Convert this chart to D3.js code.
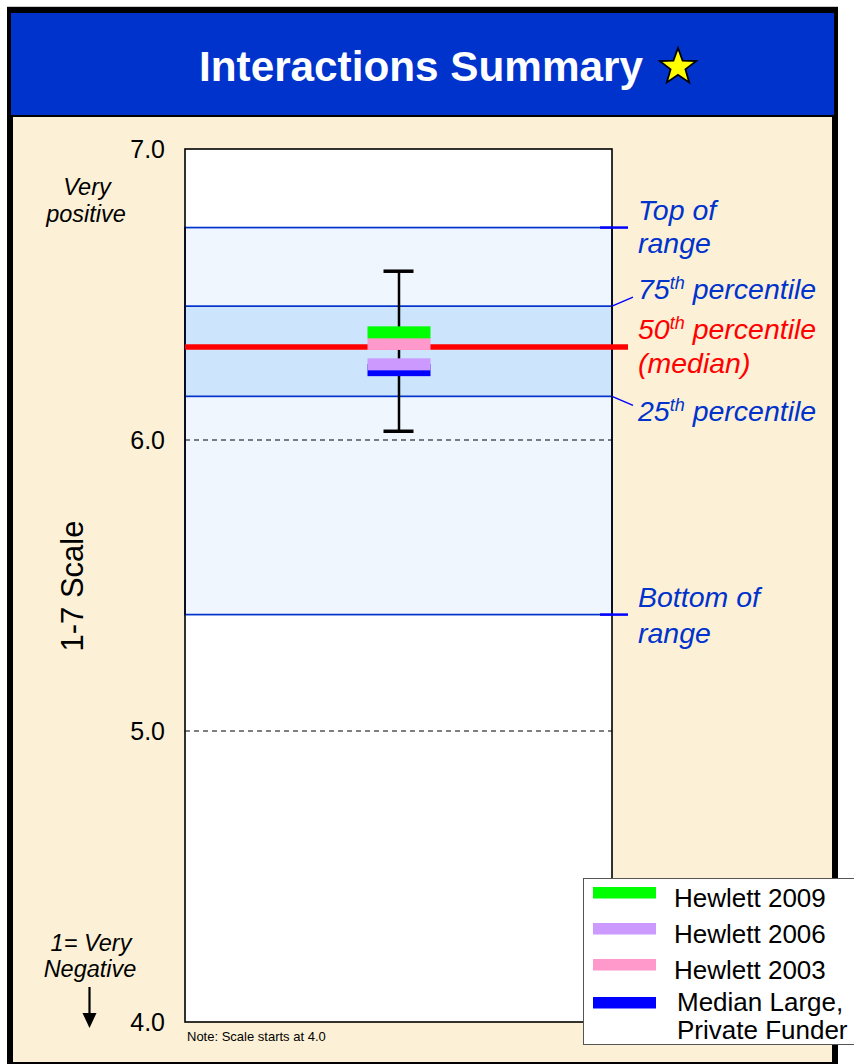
<!DOCTYPE html>
<html>
<head>
<meta charset="utf-8">
<script src="https://cdn.jsdelivr.net/npm/d3@7/dist/d3.min.js"></script>
<style>
  html, body { margin: 0; padding: 0; background: #ffffff; }
  svg { display: block; }
  text { font-family: Arial, "Liberation Sans", Helvetica, sans-serif; }
</style>
</head>
<body>
<svg id="chart" width="854" height="1064"></svg>
<script>
// Scale ticks and reference gridlines (1-7 scale, shown from 4.0)
const yDomain = [4, 7];
const yTicks = [4, 5, 6, 7];
const gridValues = [5, 6];

// Comparative distribution of funders
const rangeKeys = ["bottom", "q1", "median", "q3", "top"];
const rangeValues = [5.40, 6.15, 6.32, 6.46, 6.73];

// Whisker (error bar) around Hewlett's rating
const whiskerValues = [6.03, 6.58];

// Series markers
const seriesNames = ["Hewlett 2009", "Hewlett 2006", "Hewlett 2003", "Median Large, Private Funder"];
const seriesValues = [6.37, 6.26, 6.33, 6.24];
const seriesColors = ["#00ff00", "#cc99ff", "#ff99cc", "#0000ff"];

const svg = d3.select("#chart");
const stats = Object.fromEntries(rangeKeys.map((k, i) => [k, rangeValues[i]]));

// Frame and header
svg.append("line").attr("x1", 7).attr("x2", 838).attr("y1", 6.5).attr("y2", 6.5)
  .attr("stroke", "#cccccc").attr("stroke-width", 1);
svg.append("rect").attr("x", 7).attr("y", 7).attr("width", 831).attr("height", 1060).attr("fill", "#000000");
svg.append("rect").attr("x", 11).attr("y", 13).attr("width", 823).attr("height", 102).attr("fill", "#0033cc");
svg.append("rect").attr("x", 13).attr("y", 117).attr("width", 819).attr("height", 945).attr("fill", "#fcf1d6");

svg.append("text")
  .attr("x", 199).attr("y", 81)
  .attr("fill", "#ffffff").attr("font-weight", "bold").attr("font-size", 43)
  .attr("textLength", 444).attr("lengthAdjust", "spacingAndGlyphs")
  .text("Interactions Summary");

// Star next to the title
const starPts = d3.range(10).map(i => {
  const r = i % 2 === 0 ? 19 : 7.8;
  const a = -Math.PI / 2 + i * Math.PI / 5;
  return [678 + r * Math.cos(a), 67 + r * Math.sin(a)];
});
svg.append("path").attr("d", d3.line()(starPts) + "Z")
  .attr("fill", "#ffff00").attr("stroke", "#000000").attr("stroke-width", 1.8).attr("stroke-linejoin", "miter");

// Plot area
const plot = { left: 185, right: 612, top: 149, bottom: 1022 };
const y = d3.scaleLinear().domain(yDomain).range([plot.bottom, plot.top]);
const cx = (plot.left + plot.right) / 2;

svg.append("rect")
  .attr("x", plot.left).attr("y", plot.top)
  .attr("width", plot.right - plot.left).attr("height", plot.bottom - plot.top)
  .attr("fill", "#ffffff");

// Full range band and interquartile band
svg.append("rect")
  .attr("x", plot.left).attr("y", y(stats.top))
  .attr("width", plot.right - plot.left).attr("height", y(stats.bottom) - y(stats.top))
  .attr("fill", "#f0f6fe").attr("stroke", "#0033cc").attr("stroke-width", 1.7);
svg.append("rect")
  .attr("x", plot.left).attr("y", y(stats.q3))
  .attr("width", plot.right - plot.left).attr("height", y(stats.q1) - y(stats.q3))
  .attr("fill", "#cce5fc").attr("stroke", "#0033cc").attr("stroke-width", 1.7);

// Dashed gridlines
svg.append("g").selectAll("line").data(gridValues).join("line")
  .attr("x1", plot.left).attr("x2", plot.right)
  .attr("y1", d => y(d)).attr("y2", d => y(d))
  .attr("stroke", "#000000").attr("stroke-width", 1).attr("stroke-dasharray", "5,4");

// Plot border
svg.append("rect")
  .attr("x", plot.left).attr("y", plot.top)
  .attr("width", plot.right - plot.left).attr("height", plot.bottom - plot.top)
  .attr("fill", "none").attr("stroke", "#000000").attr("stroke-width", 1.6);

// Callout ticks for the range bands
svg.append("g").selectAll("line").data([stats.top, stats.bottom]).join("line")
  .attr("x1", 600).attr("x2", 628)
  .attr("y1", d => y(d)).attr("y2", d => y(d))
  .attr("stroke", "#0000ff").attr("stroke-width", 2.5);
svg.append("line").attr("x1", plot.right).attr("y1", y(stats.q3))
  .attr("x2", 633).attr("y2", y(stats.q3) - 9).attr("stroke", "#0000ff").attr("stroke-width", 1.5);
svg.append("line").attr("x1", plot.right).attr("y1", y(stats.q1))
  .attr("x2", 633).attr("y2", y(stats.q1) + 9).attr("stroke", "#0000ff").attr("stroke-width", 1.5);

// Median line
svg.append("line")
  .attr("x1", plot.left).attr("x2", 628)
  .attr("y1", y(stats.median)).attr("y2", y(stats.median))
  .attr("stroke", "#ff0000").attr("stroke-width", 5.5);

// Whisker
const wg = svg.append("g").attr("stroke", "#000000");
wg.append("line").attr("x1", cx + 0.5).attr("x2", cx + 0.5)
  .attr("y1", y(whiskerValues[1])).attr("y2", y(whiskerValues[0])).attr("stroke-width", 2.5);
wg.selectAll("line.cap").data(whiskerValues).join("line").attr("class", "cap")
  .attr("x1", cx - 15).attr("x2", cx + 15)
  .attr("y1", d => y(d)).attr("y2", d => y(d)).attr("stroke-width", 3.5);

// Series markers (drawn last-to-first so earlier series sit on top)
const markerW = 63, markerH = 12;
const markerData = seriesNames.map((n, i) => ({ name: n, value: seriesValues[i], color: seriesColors[i] })).reverse();
svg.append("g").selectAll("rect").data(markerData).join("rect")
  .attr("x", cx + 0.5 - markerW / 2).attr("width", markerW)
  .attr("y", d => y(d.value) - markerH / 2).attr("height", markerH)
  .attr("fill", d => d.color);

// Axis tick labels
const axis = d3.axisLeft(y).tickValues(yTicks).tickFormat(d3.format(".1f")).tickSize(0).tickPadding(20);
const axG = svg.append("g").attr("transform", `translate(${plot.left},0)`).call(axis);
axG.select(".domain").remove();
axG.selectAll("text")
  .attr("font-family", 'Arial, "Liberation Sans", sans-serif')
  .attr("font-size", 25).attr("fill", "#000000").attr("dy", "0.34em");

// Left-side annotations
const leftNotes = [
  { t: "Very", x: 87, y: 195 },
  { t: "positive", x: 86, y: 222 },
  { t: "1= Very", x: 91, y: 951 },
  { t: "Negative", x: 90, y: 977 }
];
svg.append("g").selectAll("text").data(leftNotes).join("text")
  .attr("x", d => d.x).attr("y", d => d.y).attr("text-anchor", "middle")
  .attr("font-style", "italic").attr("font-size", 23.5).attr("fill", "#000000")
  .text(d => d.t);

// Down arrow
svg.append("line").attr("x1", 89.5).attr("x2", 89.5).attr("y1", 987).attr("y2", 1015)
  .attr("stroke", "#000000").attr("stroke-width", 2.2);
svg.append("path").attr("d", "M82.5,1013 L96.5,1013 L89.5,1028 Z").attr("fill", "#000000");

// Axis title
svg.append("text")
  .attr("transform", "translate(83,586) rotate(-90)")
  .attr("text-anchor", "middle").attr("font-size", 31).attr("fill", "#000000")
  .text("1-7 Scale");

// Footnote
svg.append("text").attr("x", 187).attr("y", 1040.5)
  .attr("font-size", 13).attr("fill", "#000000").text("Note: Scale starts at 4.0");

// Right-side labels for the range bands
function rightLabel(lines, color) {
  const t = svg.append("text").attr("font-style", "italic").attr("font-size", 28.5).attr("fill", color);
  lines.forEach(l => {
    const row = t.append("tspan").attr("x", 638).attr("y", l.y);
    if (l.sup) {
      row.append("tspan").text(l.num);
      row.append("tspan").attr("font-size", 18).attr("dy", -10).text(l.sup);
      row.append("tspan").attr("dy", 10).text(l.rest);
    } else {
      row.text(l.text);
    }
  });
}
rightLabel([{ text: "Top of", y: y(stats.top) - 8 }, { text: "range", y: y(stats.top) + 25 }], "#0033cc");
rightLabel([{ num: "75", sup: "th", rest: " percentile", y: y(stats.q3) - 7 }], "#0033cc");
rightLabel([{ num: "50", sup: "th", rest: " percentile", y: y(stats.median) - 8 },
            { text: "(median)", y: y(stats.median) + 26 }], "#ff0000");
rightLabel([{ num: "25", sup: "th", rest: " percentile", y: y(stats.q1) + 25 }], "#0033cc");
rightLabel([{ text: "Bottom of", y: y(stats.bottom) - 8 }, { text: "range", y: y(stats.bottom) + 28 }], "#0033cc");

// Legend
const lg = svg.append("g");
lg.append("rect").attr("x", 583.5).attr("y", 878.5).attr("width", 280).attr("height", 166)
  .attr("fill", "#ffffff").attr("stroke", "#555555").attr("stroke-width", 1);
const legendRows = seriesNames.map((n, i) => ({ name: n, color: seriesColors[i], i }));
const swatchY = [887, 923, 959, 997];
const textRows = [[{ t: "Hewlett 2009", y: 907 }], [{ t: "Hewlett 2006", y: 943 }], [{ t: "Hewlett 2003", y: 979 }],
                  [{ t: "Median Large,", y: 1011 }, { t: "Private Funder", y: 1039 }]];
lg.selectAll("rect.sw").data(legendRows).join("rect").attr("class", "sw")
  .attr("x", 593).attr("width", 63).attr("y", d => swatchY[d.i]).attr("height", 11.5)
  .attr("fill", d => d.color);
legendRows.forEach(d => {
  const t = lg.append("text").attr("font-size", 26).attr("fill", "#000000");
  textRows[d.i].forEach(r => {
    t.append("tspan").attr("x", d.i === 3 ? 677 : 674).attr("y", r.y).text(r.t);
  });
});
</script>
</body>
</html>
